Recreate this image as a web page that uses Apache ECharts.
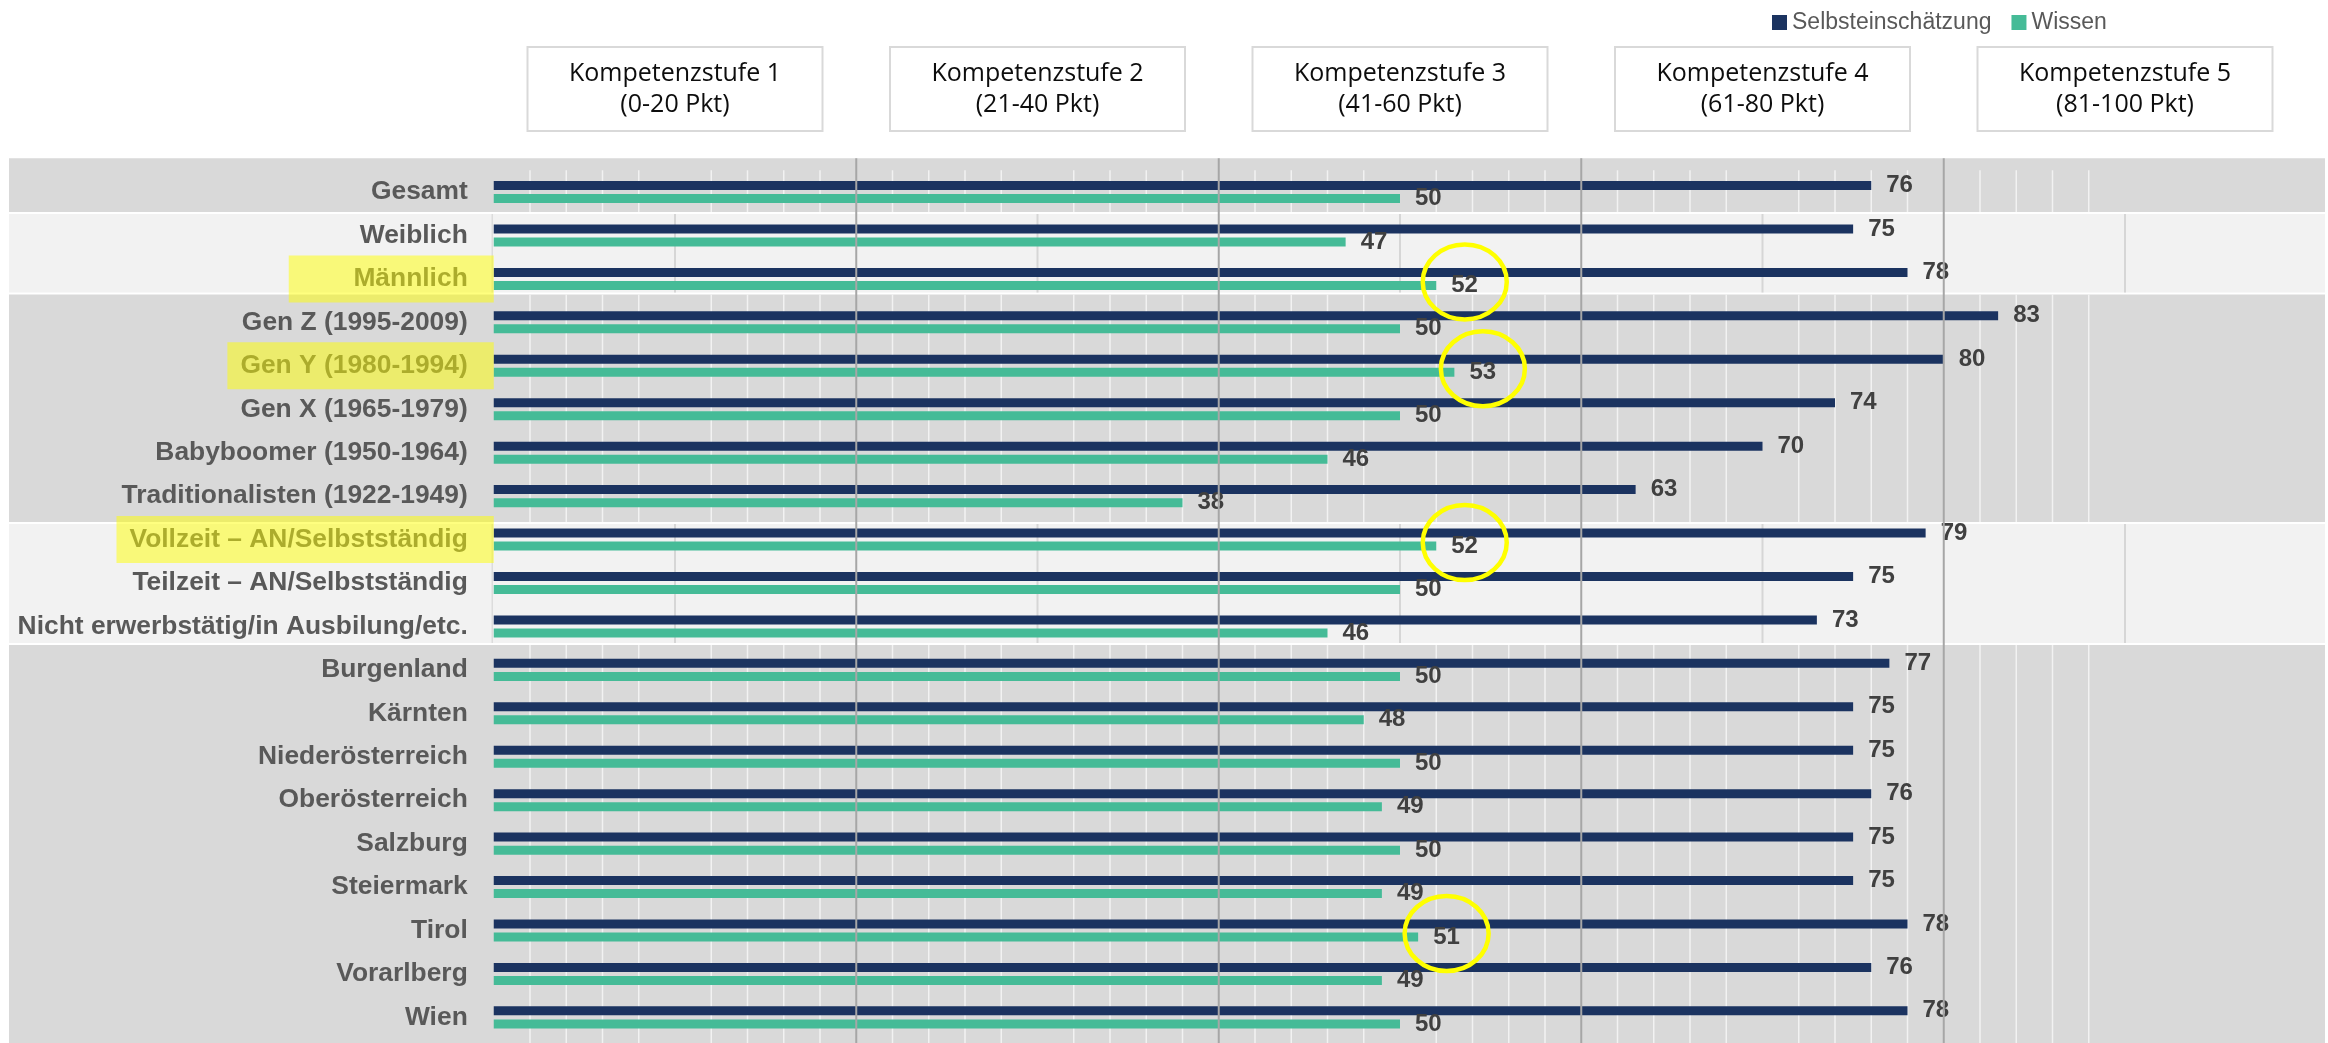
<!DOCTYPE html>
<html><head><meta charset="utf-8">
<script src="https://cdn.jsdelivr.net/npm/echarts@6.0.0/dist/echarts.min.js"></script>
<style>html,body{margin:0;padding:0;background:#fff}#c{width:2328px;height:1043px}</style>
</head><body><div id="c"></div>
<script>
// ---------- data ----------
const categories = ['Gesamt','Weiblich','Männlich','Gen Z (1995-2009)','Gen Y (1980-1994)','Gen X (1965-1979)','Babyboomer (1950-1964)','Traditionalisten (1922-1949)','Vollzeit – AN/Selbstständig','Teilzeit – AN/Selbstständig','Nicht erwerbstätig/in Ausbilung/etc.','Burgenland','Kärnten','Niederösterreich','Oberösterreich','Salzburg','Steiermark','Tirol','Vorarlberg','Wien'];
const selbst = [76,75,78,83,80,74,70,63,79,75,73,77,75,75,76,75,75,78,76,78];
const wissen = [50,47,52,50,53,50,46,38,52,50,46,50,48,50,49,50,49,51,49,50];
const seriesNames = ['Selbsteinschätzung','Wissen'];
const levelTitles = ['Kompetenzstufe 1','Kompetenzstufe 2','Kompetenzstufe 3','Kompetenzstufe 4','Kompetenzstufe 5'];
const levelRanges = ['(0-20 Pkt)','(21-40 Pkt)','(41-60 Pkt)','(61-80 Pkt)','(81-100 Pkt)'];
const levelCenters = [10,30,50,70,90];
const levelBounds = [20,40,60,80];
const minorTicks = [2,4,6,8,12,14,16,18,22,24,26,28,32,34,36,38,42,44,46,48,52,54,56,58,62,64,66,68,72,74,76,78,82,84,86,88];
// section band edges, in category-index units (band i spans edge i .. edge i+1)
const sectionEdges = [-0.78, 0.483, 2.337, 7.62, 10.405];
const highlighted = ['Männlich','Gen Y (1980-1994)','Vollzeit – AN/Selbstständig'];
const circled = ['Männlich','Gen Y (1980-1994)','Vollzeit – AN/Selbstständig','Tirol'];

// ---------- chart ----------
const W = 2328, H = 1043;
const NAVY = '#1b3360', GREEN = '#45bb97';
const GL = 493.75;
const CAT_FS = 26.4;
const chart = echarts.init(document.getElementById('c'), null, {renderer:'canvas', width:W, height:H});
const labelStyle = {show:true, position:'right', distance:15, fontSize:24, fontWeight:'bold', color:'#404040', fontFamily:'Liberation Sans'};
chart.setOption({
  animation:false,
  backgroundColor:'#ffffff',
  legend:{data:seriesNames, left:1767, top:6, itemWidth:15, itemHeight:15, itemGap:20, icon:'rect',
    textStyle:{fontSize:23, color:'#595959', fontFamily:'Liberation Sans'}, selectedMode:false},
  grid:{left:GL, right:W-(GL+1812.5), top:170.3, height:868.8, containLabel:false},
  xAxis:{type:'value', min:0, max:100, interval:10, show:false},
  yAxis:{type:'category', data:categories, inverse:true, z:5,
    axisLine:{show:false}, axisTick:{show:false}, splitLine:{show:false},
    axisLabel:{margin:26, fontSize:CAT_FS, fontWeight:'bold', color:'#595959', fontFamily:'Liberation Sans'}},
  series:[
    {name:seriesNames[0], type:'bar', data:selbst, barWidth:9, barGap:'45%', z:4, silent:true,
     itemStyle:{color:NAVY}, label:labelStyle},
    {name:seriesNames[1], type:'bar', data:wissen, barWidth:9, barGap:'45%', z:4, silent:true,
     itemStyle:{color:GREEN}, label:labelStyle}
  ]
});

const xp = v => chart.convertToPixel({xAxisIndex:0}, v);
const yp = c => chart.convertToPixel({yAxisIndex:0}, c);
const c0 = yp(categories[0]);
const pitch = yp(categories[1]) - c0;
const half = pitch/2;
const plotTop = c0 - half;
const yAt = f => c0 + f * pitch;   // fractional category position -> pixel
const g = [];

// section bands
sectionEdges.forEach((e, gi) => {
  const dark = gi % 2 === 0;
  const top = yAt(e) + (gi === 0 ? 0 : 1);
  const bottom = gi === sectionEdges.length - 1 ? H : yAt(sectionEdges[gi+1]) - 1;
  g.push({type:'rect', z:0, silent:true, shape:{x:9, y:top, width:2316, height:bottom-top}, style:{fill: dark ? '#d9d9d9' : '#f2f2f2'}});
  if (dark) {
    const y0 = Math.max(top, plotTop);
    minorTicks.forEach(v => {
      const x = xp(v);
      g.push({type:'line', z:1, silent:true, shape:{x1:x, y1:y0, x2:x, y2:bottom}, style:{stroke:'#f2f2f2', lineWidth:1.5}});
    });
  } else {
    levelCenters.forEach(v => {
      const x = xp(v);
      g.push({type:'line', z:1, silent:true, shape:{x1:x, y1:top, x2:x, y2:bottom}, style:{stroke:'#d6d6d6', lineWidth:2}});
    });
    const x0 = xp(0) - 1.5;
    g.push({type:'line', z:1, silent:true, shape:{x1:x0, y1:top, x2:x0, y2:bottom}, style:{stroke:'#dcdcdc', lineWidth:1.5}});
  }
});

// level boundary lines
levelBounds.forEach(v => {
  const x = xp(v);
  g.push({type:'line', z:6, silent:true, shape:{x1:x, y1:yAt(sectionEdges[0]), x2:x, y2:H}, style:{stroke:'#a6a6a6', lineWidth:2}});
});

// level boxes
levelCenters.forEach((v, i) => {
  const cx = xp(v);
  g.push({type:'rect', z:1, silent:true, shape:{x:cx-147.5, y:47, width:295, height:84}, style:{fill:'#ffffff', stroke:'#d9d9d9', lineWidth:2}});
  g.push({type:'text', z:2, silent:true, style:{text:levelTitles[i]+'\n'+levelRanges[i], x:cx, y:89,
    align:'center', verticalAlign:'middle', textAlign:'center', textVerticalAlign:'middle',
    fontSize:25, fontFamily:'Open Sans', lineHeight:31, fill:'#0d0d0d'}});
});

// highlight boxes
const ctx = document.createElement('canvas').getContext('2d');
ctx.font = 'bold ' + CAT_FS + 'px "Liberation Sans"';
highlighted.forEach(c => {
  const cy = yp(c);
  const w = Math.max(ctx.measureText(c).width + 26 + 13, 205);
  g.push({type:'rect', z:7, silent:true, shape:{x:GL-w, y:cy-23.5, width:w, height:47}, style:{fill:'rgba(255,255,0,0.5)'}});
});

// circles around Wissen labels
circled.forEach(c => {
  const i = categories.indexOf(c);
  const cx = xp(wissen[i]) + 15 + 13.5;
  const cy = yp(c) + 3;
  g.push({type:'ellipse', z:8, silent:true, shape:{cx:cx, cy:cy, rx:42, ry:37.5}, style:{fill:'none', stroke:'#ffff00', lineWidth:4.5}});
});

chart.setOption({graphic:{elements:g}});
</script>
</body></html>
